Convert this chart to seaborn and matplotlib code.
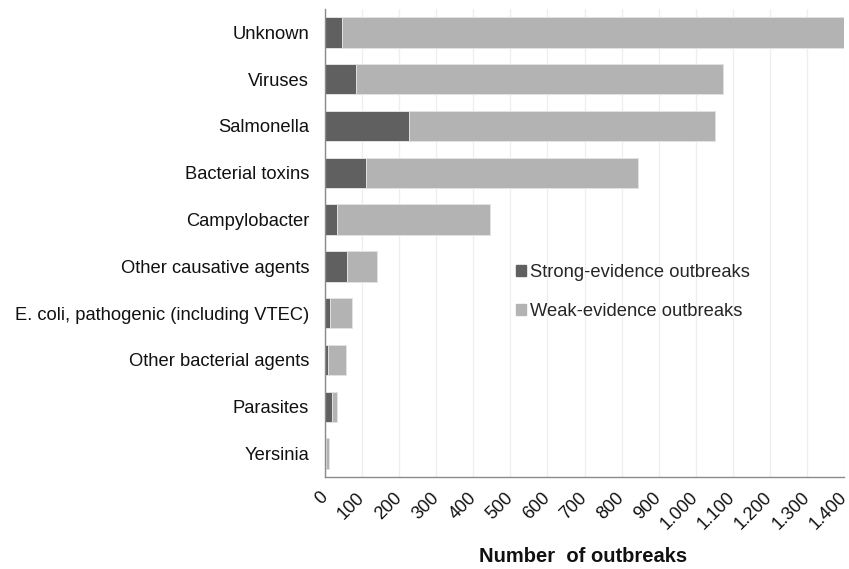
import matplotlib
matplotlib.use("Agg")
import matplotlib.pyplot as plt
from matplotlib.patches import Patch
from matplotlib.ticker import FuncFormatter
import pandas as pd
import seaborn as sns

# Data
agents = ["Unknown", "Viruses", "Salmonella", "Bacterial toxins", "Campylobacter",
          "Other causative agents", "E. coli, pathogenic (including VTEC)",
          "Other bacterial agents", "Parasites", "Yersinia"]
strong = [45, 83, 225, 110, 31, 58, 13, 7, 18, 1]
weak = [1360, 990, 826, 733, 415, 82, 59, 49, 13, 9]
x_ticks = list(range(0, 1500, 100))

strong_color = "#606060"
weak_color = "#b3b3b3"

df = pd.DataFrame({"agent": agents, "strong": strong, "weak": weak})
df["total"] = df["strong"] + df["weak"]

sns.set_style("white")
plt.rcParams["font.family"] = ["Liberation Sans", "DejaVu Sans"]

fig = plt.figure(figsize=(8.49, 5.69), dpi=100)
ax = fig.add_axes([0.383, 0.1617, 0.611, 0.8225])

# stacked bars: total drawn in the light colour, strong part on top of it
sns.barplot(data=df, y="agent", x="total", color=weak_color, saturation=1,
            width=0.65, edgecolor="#e2e2e2", linewidth=0.7, ax=ax)
sns.barplot(data=df, y="agent", x="strong", color=strong_color, saturation=1,
            width=0.65, edgecolor="#e2e2e2", linewidth=0.7, ax=ax)

ax.set_xlim(0, 1400)
ax.set_xticks(x_ticks)
ax.xaxis.set_major_formatter(FuncFormatter(lambda v, p: f"{int(v):,}".replace(",", ".")))
ax.grid(axis="x", color="#eeeeee", linewidth=0.9)
ax.set_axisbelow(True)

for s in ["top", "right"]:
    ax.spines[s].set_visible(False)
for s in ["left", "bottom"]:
    ax.spines[s].set_color("#8a8a8a")
    ax.spines[s].set_linewidth(1)

ax.tick_params(axis="both", length=0, colors="#111111")
ax.tick_params(axis="y", labelsize=13.2, pad=11.5)
ax.tick_params(axis="x", labelsize=13, pad=13)
plt.setp(ax.get_xticklabels(), rotation=45, ha="right", va="center", rotation_mode="anchor")
ax.set_ylabel("")
ax.set_xlabel("Number  of outbreaks", fontsize=14.5, fontweight="bold", color="#111111")
ax.xaxis.set_label_coords(0.498, -0.149)

handles = [Patch(color=strong_color, label="Strong-evidence outbreaks"),
           Patch(color=weak_color, label="Weak-evidence outbreaks")]
ax.legend(handles=handles, loc="center left", bbox_to_anchor=(0.368, 0.396),
          frameon=False, fontsize=13.2, handlelength=0.55, handleheight=0.55,
          handletextpad=0.2, labelspacing=1.2, borderpad=0, borderaxespad=0)

fig.savefig("out.png", dpi=100)
